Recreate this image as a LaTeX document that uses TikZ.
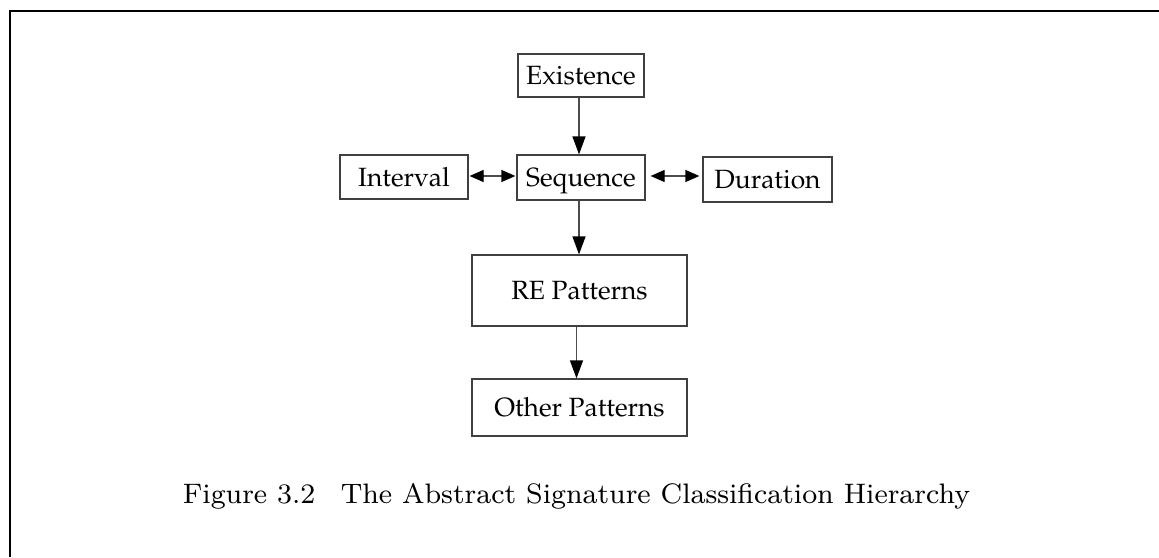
\documentclass[tikz,border=0pt]{standalone}
\usetikzlibrary{arrows.meta}
\newcommand\palfont{\fontencoding{T1}\fontfamily{ppl}\selectfont}
\tikzset{
  box/.style={draw=black!75, line width=1.2pt, rectangle, inner sep=0pt,
    font=\palfont\fontsize{26.4}{30}\selectfont, text height=18.3pt, text depth=0pt},
  varr/.style={draw=black!70, line width=1.2pt, -{Triangle[length=18pt,width=13pt,black]}},
  harr/.style={draw=black!70, line width=1.2pt, {Triangle[length=14pt,width=12pt,black]}-{Triangle[length=14pt,width=12pt,black]}},
  frame/.style={line width=2.2pt, black}
}
\begin{document}
\begin{tikzpicture}[x=1pt,y=-1pt]
\useasboundingbox (0,0) rectangle (1159,557);
\coordinate (f1) at (10,557);
\coordinate (f2) at (10,11);
\coordinate (f3) at (1159,11);
\draw[frame] (f1) -- (f2) -- (f3);
\node[box, minimum width=126pt, minimum height=43pt] (ex) at (581,75.5) {Existence};
\node[box, minimum width=128pt, minimum height=44pt] (int) at (404,177) {Interval};
\node[box, minimum width=128pt, minimum height=45pt] (seq) at (581,177.5) {Sequence};
\node[box, minimum width=129pt, minimum height=45pt] (dur) at (767.5,179.5) {Duration};
\node[box, minimum width=215pt, minimum height=71pt] (re) at (579.5,290.5) {RE Patterns};
\node[box, minimum width=215pt, minimum height=57pt] (oth) at (579.5,407.5) {Other Patterns};
\draw[varr] ([xshift=-2pt]ex.south) -- ([xshift=-2pt]seq.north);
\draw[varr] ([xshift=-2pt]seq.south) -- ([xshift=-2pt]seq.south |- re.north);
\draw[varr] ([xshift=-3pt]re.south) -- ([xshift=-3pt]oth.north);
\draw[harr, shorten <=1pt, shorten >=1pt] (int.east |- 0,176) -- (seq.west |- 0,176);
\draw[harr, shorten <=5pt, shorten >=3pt] (seq.east |- 0,176) -- (dur.west |- 0,176);
\node[inner sep=0pt, anchor=base] (cap) at (576.5,503) {\resizebox{787pt}{!}{\fontsize{8}{10}\selectfont Figure 3.2\hspace{0.9em}The Abstract Signature Classification Hierarchy}};
\end{tikzpicture}
\end{document}
